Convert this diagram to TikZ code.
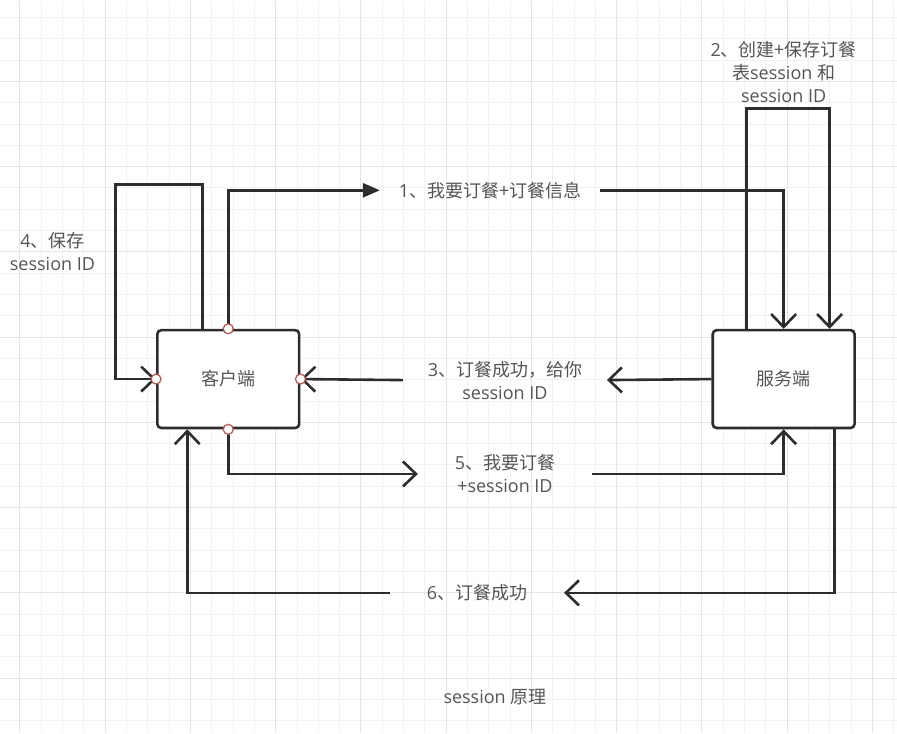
\documentclass[tikz,border=0pt]{standalone}
\usepackage{fontspec}
\setmainfont{Open Sans}
\newfontfamily\cjk{Noto Sans CJK SC}
\usetikzlibrary{arrows.meta}

\definecolor{edgegray}{RGB}{45,45,45}
\definecolor{textgray}{RGB}{85,85,85}
\definecolor{gridminor}{RGB}{241,241,241}
\definecolor{gridmajor}{RGB}{229,229,229}
\definecolor{portred}{RGB}{184,84,80}

\begin{document}
\begin{tikzpicture}[x=1pt,y=-1pt,
    flow/.style={line width=2.6pt,draw=edgegray,
      -{Straight Barb[length=13pt,width=25pt,line width=2.6pt]}},
    solidflow/.style={line width=2.6pt,draw=edgegray,
      -{Triangle[length=17pt,width=14pt]}},
    box/.style={draw=edgegray,line width=2.6pt,rounded corners=4pt,fill=white,
      minimum width=142pt,minimum height=98pt,text=textgray,
      font=\cjk\fontsize{18}{23}\selectfont},
    msg/.style={text=textgray,align=center,inner xsep=0pt,inner ysep=2pt,
      font=\fontsize{18}{23}\selectfont},
    port/.style={circle,draw=portred,fill=white,line width=1.2pt,
      minimum size=10pt,inner sep=0pt}]
    \fill[white] (0,0) rectangle (897,733);
    \foreach \i in {0,...,41}
      \draw[gridminor,line width=1pt] (19.5+\i*21.333,0) -- (19.5+\i*21.333,733);
    \foreach \i in {0,...,33}
      \draw[gridminor,line width=1pt] (0,17+\i*21.333) -- (897,17+\i*21.333);
    \foreach \i in {0,...,10}
      \draw[gridmajor,line width=1pt] (19.5+\i*85.333,0) -- (19.5+\i*85.333,733);
    \foreach \i in {0,...,7}
      \draw[gridmajor,line width=1pt] (0,81+\i*85.333) -- (897,81+\i*85.333);
    \useasboundingbox (0,0) rectangle (897,733);

    \node[box] (client) at (228,379) {客户端};
    \node[box] (server) at (784,379) {服务端};

    \node[msg,minimum width=220pt] (step1) at (490,190) {1{\cjk 、我要订餐+订餐信息}};
    \node[msg] (step2) at (784,72) {2{\cjk 、创建+保存订餐}\\{\cjk 表}session {\cjk 和}\\session ID};
    \node[msg,minimum width=204pt] (step3) at (505,380) {3{\cjk 、订餐成功，给你}\\session ID};
    \node[msg] (step4) at (52,251) {4{\cjk 、保存}\\session ID};
    \node[msg,minimum width=174pt] (step5) at (505,474) {5{\cjk 、我要订餐}\\+session ID};
    \node[msg,minimum width=174pt] (step6) at (477,593) {6{\cjk 、订餐成功}};
    \node[msg] (title) at (495,697) {session {\cjk 原理}};

    \coordinate (turn2) at (747,108);
    \coordinate (turn4) at (115,184);

    \draw[solidflow] (client.north) |- (step1.west);
    \draw[flow] (step1.east) -| (server.north);
    \draw[flow] ([xshift=-37pt]server.north) -- (turn2) -| ([xshift=46pt]server.north);
    \draw[flow] (server.west) -- (step3.east);
    \draw[flow] (step3.west) -- (client.east);
    \draw[flow] ([xshift=-26pt]client.north) |- (turn4) |- (client.west);
    \draw[flow] (client.south) |- (step5.west);
    \draw[flow] (step5.east) -| (server.south);
    \draw[flow] ([xshift=51pt]server.south) |- (step6.east);
    \draw[flow] (step6.west) -| ([xshift=-41pt]client.south);

    \foreach \a in {north,south,east,west}
      \node[port] (port-\a) at (client.\a) {};
\end{tikzpicture}
\end{document}
